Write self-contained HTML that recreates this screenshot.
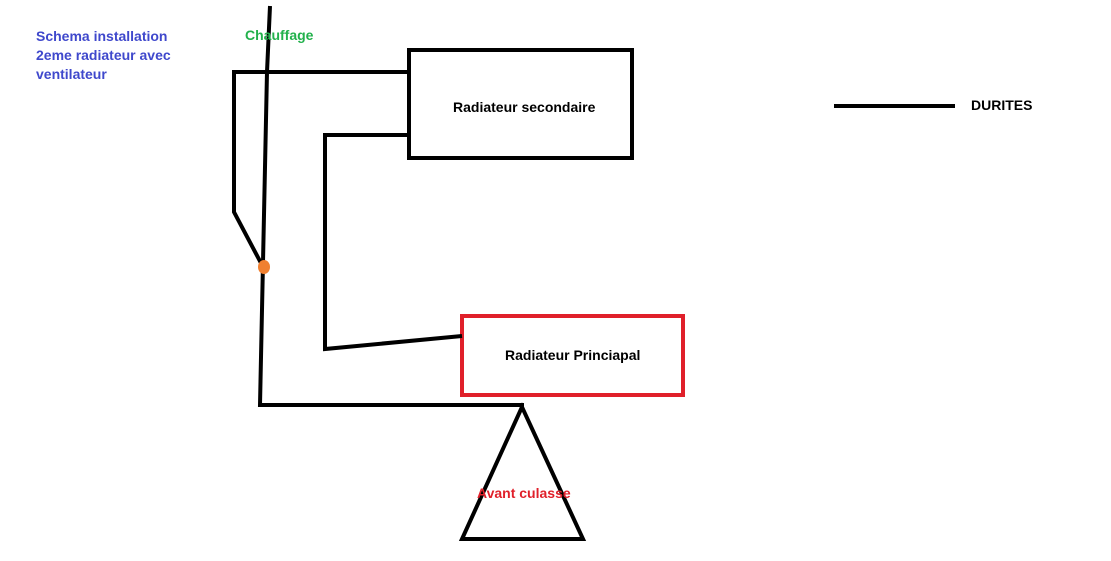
<!DOCTYPE html>
<html><head><style>
body{margin:0;width:1111px;height:561px;background:#fff;overflow:hidden;position:relative;font-family:"Liberation Sans",sans-serif;font-weight:bold;}
.t{position:absolute;font-size:14px;white-space:nowrap;}
</style></head><body>
<svg width="1111" height="561" style="position:absolute;left:0;top:0" fill="none" stroke="#000" stroke-width="4" stroke-linejoin="miter">
<rect x="409" y="50" width="223" height="108"/>
<rect x="462" y="316" width="221" height="79" stroke="#e0202a"/>
<polyline points="270,6 267,72 260,405 524,405"/>
<polyline points="409,72 234,72 234,212 262,265"/>
<polyline points="409,135 325,135 325,349 462,336"/>
<polygon points="522,407 462,539 583,539"/>
<line x1="834" y1="106" x2="955" y2="106"/>
<ellipse cx="264" cy="267" rx="6" ry="7" fill="#f08030" stroke="none"/>
</svg>
<div class="t" style="left:36px;top:27px;color:#3f48cc;line-height:19px">Schema installation<br>2eme radiateur avec<br>ventilateur</div>
<div class="t" style="left:245px;top:27px;color:#22b14c">Chauffage</div>
<div class="t" style="left:453px;top:99px;color:#000">Radiateur secondaire</div>
<div class="t" style="left:505px;top:347px;color:#000">Radiateur Princiapal</div>
<div class="t" style="left:477px;top:485px;color:#e0202a">Avant culasse</div>
<div class="t" style="left:971px;top:97px;color:#000">DURITES</div>
</body></html>
